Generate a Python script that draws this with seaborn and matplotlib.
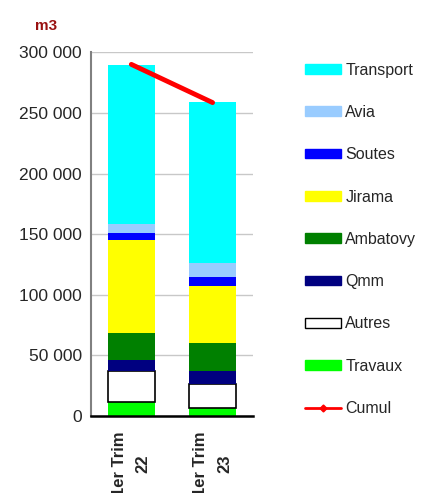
import numpy as np
import pandas as pd
import seaborn as sns
import matplotlib.pyplot as plt
from matplotlib.patches import Patch
from matplotlib.lines import Line2D
from matplotlib.ticker import FuncFormatter, FixedLocator

# periods and stacked volumes (m3), bottom to top
periods = ["1er Trim\n22", "1er Trim\n23"]
travaux = [11500, 6900]
autres = [25300, 19200]
qmm = [9100, 10700]
ambatovy = [22500, 23400]
jirama = [76400, 46900]
soutes = [6000, 8000]
avia = [7200, 11500]
transport = [131800, 132700]
cumul = [290000, 258500]

series = [
    ("Travaux", travaux, "#00FF00"),
    ("Autres", autres, "#FFFFFF"),
    ("Qmm", qmm, "#000080"),
    ("Ambatovy", ambatovy, "#008000"),
    ("Jirama", jirama, "#FFFF00"),
    ("Soutes", soutes, "#0000FF"),
    ("Avia", avia, "#99CCFF"),
    ("Transport", transport, "#00FFFF"),
]

sns.set_style("white")
plt.rcParams["font.family"] = ["Liberation Sans", "DejaVu Sans"]

fig = plt.figure(figsize=(4.22, 4.93), dpi=100)
ax = fig.add_axes([0.215, 0.156, 0.385, 0.738])

bottom = np.zeros(len(periods))
for name, vals, col in series:
    edge = "black" if name == "Autres" else col
    lw = 1.2 if name == "Autres" else 0
    sns.barplot(x=periods, y=vals, bottom=bottom, color=col, saturation=1,
                width=0.58, edgecolor=edge, linewidth=lw, errorbar=None, ax=ax)
    bottom = bottom + np.array(vals)

sns.lineplot(x=[0, 1], y=cumul, color="red", lw=3.5, ax=ax)

ax.set_xlim(-0.5, 1.5)
ax.set_ylim(0, 300000)
ax.set_yticks(np.arange(0, 300001, 50000))
ax.yaxis.set_major_formatter(FuncFormatter(lambda v, p: f"{int(v):,}".replace(",", " ")))
ax.yaxis.grid(True, color="#C8C8C8", lw=1)
ax.set_axisbelow(True)

ax.set_xticks([0, 1])
ax.set_xticklabels(periods, rotation=90, fontsize=12, fontweight="bold",
                   multialignment="center", linespacing=1.75)
ax.xaxis.set_minor_locator(FixedLocator([-0.5, 0.5, 1.5]))
ax.tick_params(axis="x", which="major", length=0, pad=11)
ax.tick_params(axis="x", which="minor", length=5, width=1.5, color="black", direction="out")
ax.tick_params(axis="y", length=3.5, width=1, color="#808080", labelsize=12.5,
               pad=3, direction="out")
ax.set_xlabel("")
ax.set_ylabel("")

for s in ["top", "right"]:
    ax.spines[s].set_visible(False)
ax.spines["left"].set_color("#808080")
ax.spines["left"].set_linewidth(1.5)
ax.spines["bottom"].set_color("black")
ax.spines["bottom"].set_linewidth(1.8)

fig.text(0.083, 0.948, "m3", color="#991111", fontsize=11, fontweight="bold",
         ha="left", va="center")

handles = []
labels = []
for name, vals, col in reversed(series):
    if name == "Autres":
        handles.append(Patch(facecolor="white", edgecolor="black", linewidth=1))
    else:
        handles.append(Patch(facecolor=col, edgecolor=col))
    labels.append(name)
handles.append(Line2D([0], [0], color="red", lw=2, marker="D", markersize=3.5))
labels.append("Cumul")

fig.legend(handles, labels, loc="upper left", bbox_to_anchor=(0.722, 0.873),
           frameon=False, fontsize=11.5, handlelength=2.25, handleheight=0.55,
           handletextpad=0.3, labelspacing=1.71, borderpad=0, borderaxespad=0)

fig.savefig("out.png", dpi=100)
